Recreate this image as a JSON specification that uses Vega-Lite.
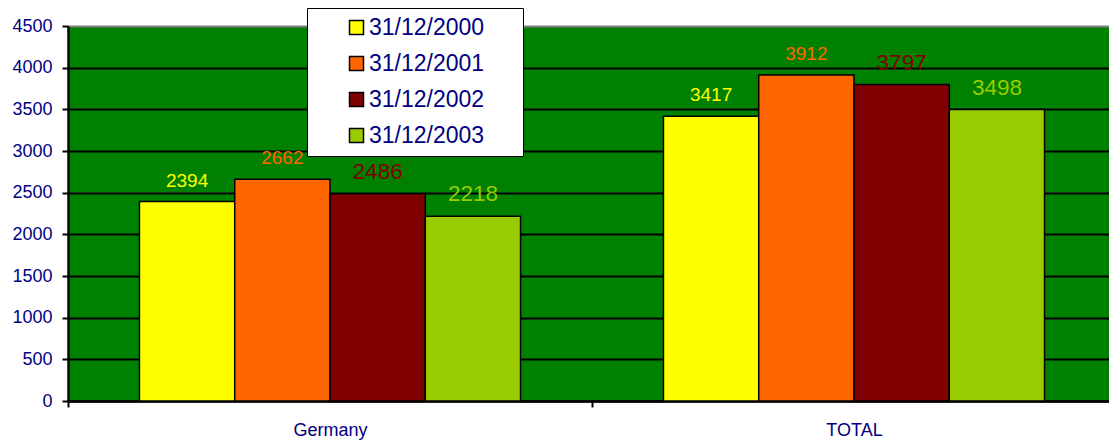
{
  "$schema": "https://vega.github.io/schema/vega-lite/v6.json",
  "width": 1041,
  "height": 375,
  "autosize": {"type": "none"},
  "padding": {"left": 68, "top": 26, "right": 0, "bottom": 43},
  "background": "white",
  "config": {
    "font": "Liberation Sans",
    "view": {"fill": "#008000", "stroke": null}
  },
  "data": {
    "values": [
      {"country": "Germany", "year": "31/12/2000", "value": 2394},
      {"country": "Germany", "year": "31/12/2001", "value": 2662},
      {"country": "Germany", "year": "31/12/2002", "value": 2486},
      {"country": "Germany", "year": "31/12/2003", "value": 2218},
      {"country": "TOTAL", "year": "31/12/2000", "value": 3417},
      {"country": "TOTAL", "year": "31/12/2001", "value": 3912},
      {"country": "TOTAL", "year": "31/12/2002", "value": 3797},
      {"country": "TOTAL", "year": "31/12/2003", "value": 3498}
    ]
  },
  "encoding": {
    "x": {
      "field": "country",
      "type": "nominal",
      "sort": ["Germany", "TOTAL"],
      "scale": {"range": [0, 1048], "paddingInner": 0, "paddingOuter": 0},
      "axis": {
        "title": null,
        "labelAngle": 0,
        "labelFontSize": 18,
        "labelColor": "#000080",
        "labelPadding": 14,
        "tickBand": "extent",
        "tickSize": 6,
        "tickWidth": 2,
        "tickColor": "black",
        "domainColor": "black",
        "domainWidth": 2.5,
        "grid": false
      }
    },
    "xOffset": {
      "field": "year",
      "type": "nominal",
      "scale": {
        "domain": ["31/12/2000", "31/12/2001", "31/12/2002", "31/12/2003"],
        "paddingInner": 0,
        "paddingOuter": 0.75
      }
    },
    "y": {
      "field": "value",
      "type": "quantitative",
      "scale": {"domain": [0, 4500], "nice": false},
      "axis": {
        "title": null,
        "format": "d",
        "values": [0, 500, 1000, 1500, 2000, 2500, 3000, 3500, 4000, 4500],
        "labelFontSize": 18,
        "labelColor": "#000080",
        "labelPadding": 10,
        "tickSize": 6,
        "tickWidth": 2,
        "tickColor": "black",
        "domainColor": "black",
        "domainWidth": 2.5,
        "grid": true,
        "gridWidth": 2,
        "gridColor": {"condition": {"test": "datum.value === 4500", "value": "#808080"}, "value": "black"}
      }
    }
  },
  "layer": [
    {
      "mark": {"type": "bar", "stroke": "black", "strokeWidth": 1.5, "opacity": 1},
      "encoding": {
        "color": {
          "field": "year",
          "type": "nominal",
          "scale": {
            "domain": ["31/12/2000", "31/12/2001", "31/12/2002", "31/12/2003"],
            "range": ["#FFFF00", "#FF6600", "#800000", "#99CC00"]
          },
          "legend": {
            "orient": "none",
            "legendX": 239,
            "legendY": -18,
            "title": ".",
            "titleOrient": "right",
            "titleAngle": 0,
            "titleColor": "white",
            "titleFontSize": 23,
            "titlePadding": 24,
            "fillColor": "white",
            "strokeColor": "black",
            "padding": 8,
            "symbolType": "square",
            "symbolSize": 196,
            "symbolStrokeColor": "black",
            "symbolStrokeWidth": 1.5,
            "symbolOpacity": 1,
            "symbolOffset": 30,
            "labelFontSize": 23,
            "labelColor": "#000080",
            "labelOffset": 1,
            "labelLimit": 300,
            "rowPadding": 12
          }
        }
      }
    },
    {
      "transform": [{"filter": {"field": "year", "oneOf": ["31/12/2000", "31/12/2001"]}}],
      "mark": {"type": "text", "baseline": "alphabetic", "align": "center", "dy": -15, "fontSize": 19},
      "encoding": {
        "text": {"field": "value", "type": "quantitative"},
        "fill": {
          "field": "year",
          "type": "nominal",
          "scale": {
            "domain": ["31/12/2000", "31/12/2001", "31/12/2002", "31/12/2003"],
            "range": ["#FFFF00", "#FF6600", "#800000", "#99CC00"]
          },
          "legend": null
        }
      }
    },
    {
      "transform": [{"filter": {"field": "year", "oneOf": ["31/12/2002", "31/12/2003"]}}],
      "mark": {"type": "text", "baseline": "alphabetic", "align": "center", "dy": -15, "fontSize": 22.5},
      "encoding": {
        "text": {"field": "value", "type": "quantitative"},
        "fill": {
          "field": "year",
          "type": "nominal",
          "scale": {
            "domain": ["31/12/2000", "31/12/2001", "31/12/2002", "31/12/2003"],
            "range": ["#FFFF00", "#FF6600", "#800000", "#99CC00"]
          },
          "legend": null
        }
      }
    }
  ]
}
